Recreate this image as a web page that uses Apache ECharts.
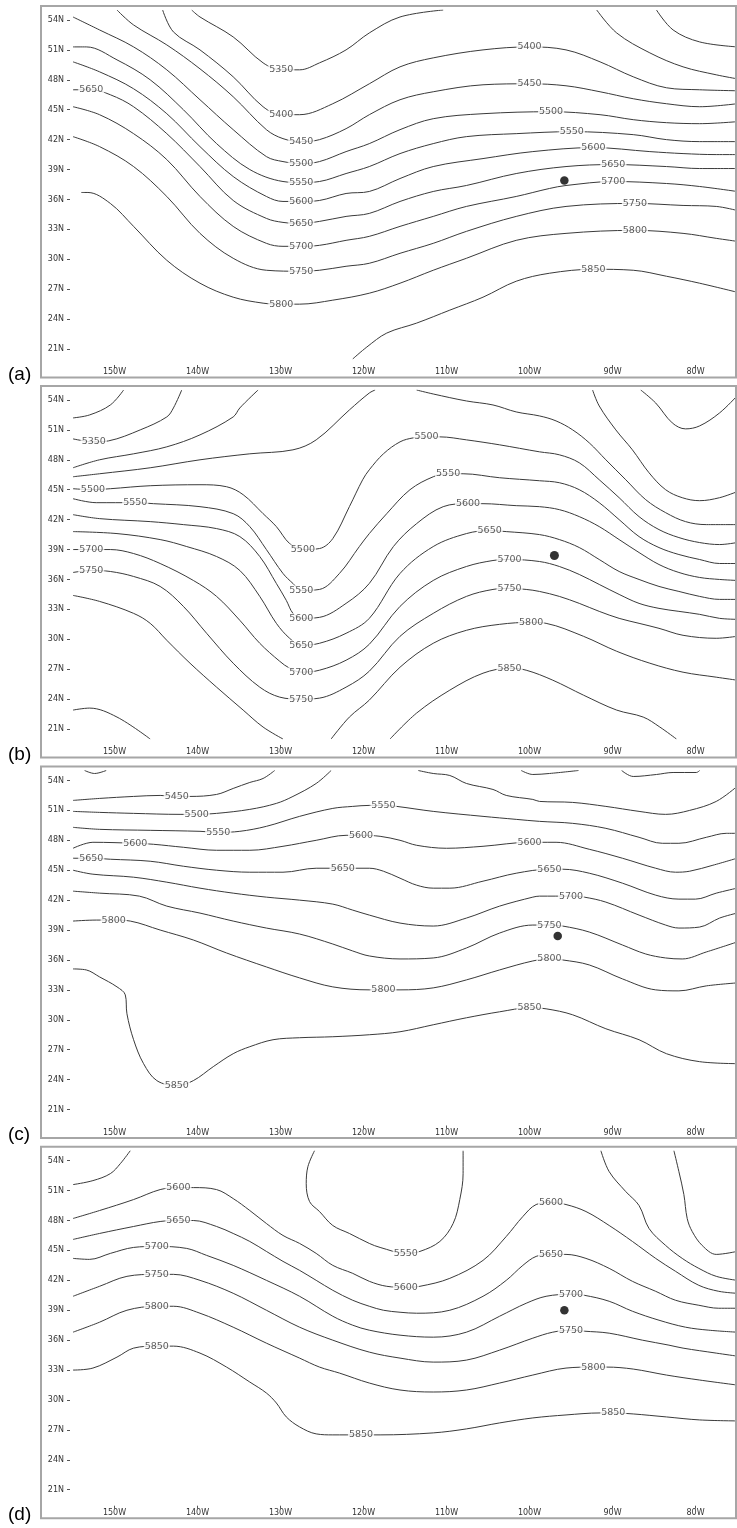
<!DOCTYPE html>
<html>
<head>
<meta charset="utf-8">
<script src="https://cdn.jsdelivr.net/npm/echarts@6/dist/echarts.min.js"></script>
<style>
html,body{margin:0;padding:0;background:#fff;}
#chart{width:737px;height:1528px;}
</style>
</head>
<body>
<div id="chart"></div>
<script>
// ---- axis ticks ----
const lonTicks = [-150,-140,-130,-120,-110,-100,-90,-80];
const latTicks = [21,24,27,30,33,36,39,42,45,48,51,54];
const panelNames = ['(a)','(b)','(c)','(d)'];

// ---- panel (a): contour segments [level, [[lon,lat],...]] ----
const linesA = [
 [5350, [[-140.7,55],[-139.7,54.3],[-135.7,52.3],[-132.1,49.7],[-129.9,49.0],[-127.7,49.0],[-125.3,49.7],[-122.1,51.0],[-119.3,52.7],[-115.6,54.3],[-110.4,55]]],
 [5400, [[-144.2,55],[-142.9,52.8],[-139.7,51.0],[-135.7,48.3],[-132.1,45.3],[-129.9,44.5],[-127.7,44.5],[-123.7,45.6],[-119.3,47.6],[-115.6,49.3],[-111.6,50.2],[-105.6,51.0],[-100.0,51.3],[-95.6,51.0],[-91.5,49.8],[-87.5,48.3],[-83.5,47.2],[-79.5,47.0],[-75,46.9]]],
 [5450, [[-149.7,55],[-147.7,53.5],[-143.7,51.5],[-139.7,49.1],[-135.7,46.3],[-131.7,43.0],[-129.7,42.1],[-127.5,41.8],[-125.3,42.0],[-122.1,43.1],[-119.3,44.5],[-115.6,46.0],[-111.6,46.8],[-105.6,47.5],[-100.0,47.6],[-95.6,47.4],[-91.5,46.8],[-87.5,46.1],[-83.5,45.6],[-79.5,45.3],[-75,45.6]]],
 [5500, [[-155,54.3],[-151.8,53.0],[-147.7,51.3],[-143.7,49.0],[-139.7,46.0],[-135.7,43.0],[-131.7,40.3],[-129.7,39.8],[-127.5,39.6],[-125.3,39.8],[-122.1,40.8],[-119.3,41.6],[-115.6,43.0],[-111.6,44.1],[-105.6,44.6],[-97.4,44.8],[-91.5,44.5],[-87.5,44.0],[-83.5,43.7],[-79.5,43.6],[-75,43.8]]],
 [5550, [[-155,51.3],[-153.4,51.3],[-149.7,50.0],[-145.7,48.0],[-141.7,45.0],[-137.7,41.6],[-133.7,39.0],[-129.7,37.8],[-127.5,37.7],[-125.3,37.8],[-122.1,38.6],[-119.3,39.3],[-115.6,40.6],[-111.6,41.6],[-107.6,42.3],[-101.6,42.6],[-94.9,42.8],[-87.5,42.5],[-83.5,42.0],[-79.5,41.8],[-75,41.8]]],
 [5600, [[-155,49.8],[-151.8,48.8],[-147.7,47.1],[-143.7,44.6],[-139.7,41.3],[-135.7,38.3],[-131.7,36.3],[-129.7,35.8],[-127.5,35.8],[-125.3,35.9],[-122.1,36.6],[-119.3,36.8],[-115.6,38.1],[-111.6,39.3],[-105.6,40.1],[-99.6,40.8],[-92.3,41.2],[-85.5,40.8],[-81.5,40.6],[-77.5,40.5],[-75,40.5]]],
 [5650, [[-155,47.0],[-152.8,47.0],[-150.5,46.5],[-147.7,45.3],[-143.7,42.6],[-139.7,39.3],[-135.7,35.9],[-131.7,34.1],[-129.7,33.7],[-127.5,33.6],[-125.3,33.8],[-122.1,34.3],[-119.3,34.6],[-115.6,35.8],[-111.6,36.8],[-107.6,37.4],[-101.6,38.6],[-95.6,39.3],[-89.9,39.5],[-83.5,39.3],[-79.5,39.1],[-75,39.1]]],
 [5700, [[-155,45.3],[-151.8,44.5],[-147.7,42.6],[-143.7,40.0],[-139.7,36.3],[-135.7,33.3],[-131.7,31.6],[-129.7,31.3],[-127.5,31.3],[-125.3,31.4],[-122.1,31.9],[-119.3,32.3],[-115.6,33.3],[-111.6,34.3],[-107.6,35.3],[-101.6,36.3],[-97.6,37.1],[-95.6,37.4],[-89.9,37.8],[-83.5,37.6],[-79.5,37.3],[-75,36.8]]],
 [5750, [[-155,42.3],[-151.8,41.3],[-147.7,39.3],[-143.7,36.3],[-139.7,32.6],[-135.7,30.1],[-131.7,28.9],[-127.5,28.8],[-125.3,28.9],[-122.1,29.3],[-119.3,29.6],[-115.6,30.6],[-111.6,31.6],[-107.6,32.8],[-101.6,34.3],[-95.6,35.3],[-87.3,35.6],[-81.5,35.4],[-77.5,35.3],[-75,34.9]]],
 [5800, [[-154.0,36.7],[-153.2,36.7],[-150.5,35.6],[-147.7,33.3],[-143.7,29.9],[-139.7,27.6],[-135.7,26.2],[-132.1,25.6],[-129.9,25.5],[-127.7,25.5],[-123.7,25.9],[-119.3,26.6],[-115.6,27.6],[-111.6,28.9],[-107.6,30.1],[-101.6,31.9],[-95.6,32.6],[-87.3,32.9],[-81.5,32.6],[-77.5,32.1],[-75,31.8]]],
 [5850, [[-121.3,20],[-119.6,21.2],[-117.2,22.6],[-113.6,23.6],[-109.6,24.9],[-105.6,26.2],[-101.6,27.8],[-97.6,28.6],[-92.3,29.0],[-87.5,28.9],[-83.5,28.3],[-79.5,27.6],[-75,26.7]]],
 [5350, [[-91.9,55],[-89.5,52.7],[-85.5,50.7],[-81.5,49.3],[-77.5,48.5],[-75,48.1]]],
 [5300, [[-84.7,55],[-82.7,53.0],[-79.5,51.8],[-75,51.3]]]
];
const labelsA = [
 [-129.9,49.0,'5350'],[-129.9,44.5,'5400'],[-127.5,41.8,'5450'],[-127.5,39.6,'5500'],[-127.5,37.7,'5550'],
 [-127.5,35.8,'5600'],[-127.5,33.6,'5650'],[-127.5,31.3,'5700'],[-127.5,28.8,'5750'],[-129.9,25.5,'5800'],
 [-152.8,47.0,'5650'],[-100.0,51.3,'5400'],[-100.0,47.6,'5450'],[-97.4,44.8,'5500'],[-94.9,42.8,'5550'],
 [-92.3,41.2,'5600'],[-89.9,39.5,'5650'],[-89.9,37.8,'5700'],[-87.3,35.6,'5750'],[-87.3,32.9,'5800'],[-92.3,29.0,'5850']
];
const dotA = [-95.8,37.9];

// ---- panel (b) ----
const linesB = [
 [5300, [[-155,52.2],[-153.0,52.5],[-150.5,53.5],[-148.9,55]]],
 [5350, [[-155,50.1],[-152.5,49.8],[-150.7,49.9],[-146.9,51.0],[-143.7,52.3],[-142.9,53.2],[-141.9,55]]],
 [5400, [[-155,47.2],[-151.8,48.0],[-147.7,48.6],[-143.7,49.3],[-139.7,50.5],[-135.7,52.3],[-134.9,53.2],[-132.7,55]]],
 [5450, [[-155,46.3],[-151.8,46.6],[-145.7,47.2],[-139.7,48.0],[-133.7,48.6],[-128.5,49.0],[-125.7,50.0],[-121.7,53.0],[-119.3,54.7],[-118.6,55]]],
 [5500, [[-155,45.1],[-152.6,45.0],[-150.5,45.1],[-145.7,45.4],[-139.7,45.5],[-136.5,45.3],[-134.5,44.5],[-132.1,42.6],[-130.5,41.3],[-128.9,39.6],[-127.3,39.0],[-125.3,39.1],[-123.7,40.1],[-121.7,43.3],[-120.1,46.0],[-119.3,47.0],[-117.6,48.6],[-115.6,49.8],[-114.0,50.2],[-112.4,50.3],[-110.8,50.3],[-107.6,50.0],[-103.6,49.5],[-98.8,48.8],[-96.4,48.5],[-94.0,47.7],[-91.6,46.0],[-89.2,44.2],[-86.8,42.3],[-84.4,41.0],[-82.0,40.2],[-79.5,39.7],[-77.1,39.5],[-75,39.7]]],
 [5550, [[-155,44.1],[-152.2,43.7],[-147.5,43.7],[-145.3,43.6],[-139.7,43.3],[-135.7,42.6],[-133.7,41.3],[-131.7,39.0],[-129.7,36.6],[-128.5,35.6],[-127.5,34.9],[-125.3,35.0],[-122.9,36.6],[-120.5,39.3],[-119.3,40.6],[-117.2,42.6],[-114.4,45.0],[-111.6,46.3],[-109.8,46.6],[-108.0,46.6],[-103.6,46.2],[-98.8,45.9],[-96.4,45.7],[-94.0,45.0],[-91.6,43.7],[-89.2,42.0],[-86.8,40.3],[-84.4,39.2],[-82.0,38.5],[-79.5,38.0],[-77.1,37.6],[-75,37.6]]],
 [5600, [[-155,42.5],[-151.8,42.1],[-145.7,41.8],[-141.7,41.5],[-137.7,41.1],[-134.9,40.3],[-132.5,38.3],[-130.5,35.6],[-129.3,33.9],[-128.5,32.6],[-127.5,32.1],[-125.3,32.2],[-122.1,33.6],[-119.3,35.6],[-116.4,39.3],[-113.6,41.6],[-110.4,43.3],[-107.4,43.6],[-105.6,43.6],[-101.6,43.4],[-98.8,43.3],[-96.4,43.0],[-94.0,42.3],[-91.6,41.3],[-89.2,40.0],[-86.8,38.7],[-84.4,37.5],[-82.0,36.7],[-79.5,36.2],[-77.1,36.0],[-75,35.9]]],
 [5650, [[-155,40.8],[-149.7,40.6],[-144.5,40.0],[-141.3,39.3],[-137.7,38.3],[-134.9,36.9],[-132.5,34.3],[-130.5,31.6],[-128.9,30.1],[-127.5,29.4],[-125.3,29.6],[-122.1,30.6],[-119.3,32.1],[-115.6,36.6],[-111.6,39.3],[-107.6,40.6],[-104.8,40.9],[-102.8,40.8],[-98.8,40.5],[-96.4,40.0],[-94.0,39.2],[-91.6,38.0],[-89.2,36.8],[-86.8,36.0],[-84.4,35.3],[-82.0,34.8],[-79.5,34.3],[-77.1,34.0],[-75,34.0]]],
 [5700, [[-155,39.0],[-152.8,39.0],[-150.5,39.0],[-147.7,38.6],[-144.5,37.6],[-140.5,35.9],[-137.7,34.3],[-134.9,31.9],[-132.5,29.6],[-130.1,27.8],[-128.9,27.1],[-127.5,26.7],[-125.3,26.9],[-122.1,27.9],[-119.3,29.5],[-115.6,33.3],[-111.6,35.9],[-107.6,37.3],[-104.4,37.9],[-102.4,38.0],[-98.8,37.8],[-96.4,37.3],[-94.0,36.5],[-91.6,35.5],[-89.2,34.5],[-86.8,33.6],[-84.4,33.1],[-82.0,32.8],[-79.5,32.5],[-77.1,32.1],[-75,32.0]]],
 [5750, [[-155,36.7],[-152.8,36.9],[-150.5,36.8],[-147.7,36.3],[-144.5,35.3],[-141.7,33.3],[-138.9,30.6],[-135.7,27.6],[-132.5,25.2],[-130.1,24.2],[-127.5,24.0],[-125.3,24.1],[-122.1,25.2],[-119.3,26.8],[-115.6,30.3],[-111.6,32.6],[-107.6,34.3],[-104.4,35.0],[-102.4,35.1],[-100.4,35.0],[-98.8,34.8],[-96.4,34.3],[-94.0,33.6],[-91.6,32.8],[-89.2,32.1],[-86.8,31.6],[-84.4,31.1],[-81.5,30.4],[-77.5,30.1],[-75,30.3]]],
 [5800, [[-155,34.4],[-151.8,33.8],[-147.7,32.6],[-145.7,31.6],[-143.7,29.9],[-140.9,27.6],[-137.7,25.2],[-134.5,22.9],[-132.1,21.2],[-129.7,20]]],
 [5800, [[-123.9,20],[-121.7,22.2],[-119.3,23.9],[-115.6,27.2],[-111.6,29.6],[-107.6,30.9],[-103.6,31.5],[-99.8,31.7],[-98.0,31.6],[-93.5,30.3],[-89.5,28.8],[-85.5,27.6],[-81.5,26.7],[-77.5,26.2],[-75,25.9]]],
 [5850, [[-155,22.9],[-153.0,23.1],[-149.7,22.2],[-145.7,20]]],
 [5850, [[-116.8,20],[-113.6,22.6],[-109.6,24.9],[-105.6,26.6],[-102.4,27.1],[-100.4,26.9],[-97.2,25.9],[-93.5,24.4],[-89.5,22.9],[-86.3,22.2],[-84.3,21.2],[-82.3,20]]],
 [5450, [[-113.6,55],[-111.6,54.6],[-107.6,53.9],[-104.4,53.5],[-101.6,52.8],[-98.8,52.4],[-96.8,51.9],[-94.8,51.0],[-92.8,49.7],[-90.8,48.0],[-88.4,46.0],[-86.0,44.0],[-83.6,42.7],[-81.2,41.8],[-78.7,41.5],[-75,41.5]]],
 [5400, [[-92.4,55],[-91.6,53.4],[-89.6,51.0],[-87.6,49.0],[-85.6,46.7],[-83.6,45.0],[-81.6,44.2],[-79.5,43.9],[-77.1,44.2],[-75,44.8]]],
 [5350, [[-86.6,55],[-84.8,53.7],[-82.8,51.7],[-81.2,51.1],[-79.5,51.4],[-77.1,52.7],[-75,54.4]]]
];
const labelsB = [
 [-152.5,49.8,'5350'],[-152.6,45.0,'5500'],[-147.5,43.7,'5550'],[-152.8,39.0,'5700'],[-152.8,36.9,'5750'],
 [-127.3,39.0,'5500'],[-127.5,34.9,'5550'],[-127.5,32.1,'5600'],[-127.5,29.4,'5650'],[-127.5,26.7,'5700'],[-127.5,24.0,'5750'],
 [-112.4,50.3,'5500'],[-109.8,46.6,'5550'],[-107.4,43.6,'5600'],[-104.8,40.9,'5650'],[-102.4,38.0,'5700'],
 [-102.4,35.1,'5750'],[-99.8,31.7,'5800'],[-102.4,27.1,'5850']
];
const dotB = [-97.0,38.4];

// ---- panel (c) ----
const linesC = [
 [5450, [[-153.6,55],[-152.4,54.7],[-151.0,55]]],
 [5450, [[-155,52.0],[-151.8,52.2],[-147.7,52.4],[-144.5,52.5],[-142.5,52.4],[-140.9,52.4],[-137.7,52.6],[-135.7,53.2],[-133.7,53.8],[-132.1,54.2],[-130.7,55]]],
 [5500, [[-155,50.9],[-151.8,50.8],[-147.7,50.7],[-142.1,50.6],[-140.1,50.6],[-137.7,50.7],[-133.7,51.1],[-130.5,51.7],[-128.5,52.4],[-125.7,53.7],[-123.9,55]]],
 [5500, [[-113.4,55],[-111.6,54.7],[-109.6,54.5],[-107.6,53.7],[-104.4,53.1],[-102.8,52.5],[-99.6,52.1],[-98.8,51.9],[-94.8,51.8],[-90.8,51.4],[-86.8,50.9],[-83.6,50.6],[-80.7,51.0],[-77.5,51.9],[-75,53.4]]],
 [5450, [[-101.0,55],[-99.6,54.6],[-97.6,54.7],[-94.1,55]]],
 [5450, [[-88.9,55],[-87.5,54.4],[-84.7,54.6],[-82.7,54.8],[-79.9,54.8],[-79.5,55]]],
 [5550, [[-155,49.3],[-151.8,49.1],[-145.7,49.0],[-139.7,48.9],[-137.5,48.8],[-134.9,48.9],[-131.7,49.4],[-127.7,50.4],[-123.7,51.2],[-121.3,51.4],[-119.3,51.5],[-117.6,51.5],[-116.0,51.4],[-111.6,50.9],[-105.6,50.4],[-101.6,50.1],[-98.8,49.9],[-94.8,49.7],[-90.8,49.2],[-86.8,48.3],[-84.0,47.7],[-82.0,47.7],[-78.7,48.3],[-76.3,48.7],[-75,48.7]]],
 [5600, [[-155,47.2],[-152.6,47.8],[-147.5,47.7],[-145.3,47.6],[-141.7,47.3],[-137.7,47.0],[-133.7,47.0],[-129.7,47.4],[-125.7,48.0],[-122.1,48.5],[-120.3,48.5],[-118.0,48.4],[-115.6,48.0],[-113.6,47.5],[-110.0,47.2],[-105.6,47.4],[-100.0,47.8],[-98.8,47.8],[-96.8,47.8],[-92.8,47.1],[-88.8,46.2],[-84.8,45.2],[-82.4,44.8],[-80.7,44.9],[-77.9,45.5],[-75,46.2]]],
 [5650, [[-155,46.2],[-152.8,46.2],[-150.5,46.1],[-145.7,45.9],[-141.7,45.4],[-137.7,45.0],[-133.7,44.8],[-129.7,44.8],[-125.7,45.2],[-122.5,45.2],[-119.3,45.2],[-117.6,44.9],[-115.6,44.2],[-113.6,43.5],[-111.6,43.2],[-109.6,43.2],[-105.6,43.9],[-101.6,44.7],[-97.6,45.1],[-96.0,45.1],[-92.8,44.7],[-88.8,43.7],[-84.8,42.5],[-82.0,42.1],[-80.0,42.1],[-77.5,42.7],[-75,43.2]]],
 [5700, [[-155,45.0],[-152.6,44.6],[-147.7,44.3],[-143.7,43.8],[-139.7,43.2],[-135.7,42.7],[-131.7,42.3],[-127.7,42.0],[-123.7,41.6],[-121.3,41.0],[-119.3,40.5],[-115.6,39.7],[-111.6,39.4],[-107.6,40.2],[-103.6,41.4],[-99.6,42.3],[-98.8,42.4],[-95.0,42.4],[-93.4,42.3],[-90.8,41.8],[-86.8,40.5],[-83.6,39.5],[-82.0,39.2],[-79.5,39.3],[-77.1,40.2],[-75,40.7]]],
 [5750, [[-155,42.9],[-151.8,42.7],[-147.0,42.4],[-143.7,41.4],[-139.7,40.7],[-135.7,39.9],[-131.7,39.2],[-127.7,38.6],[-123.7,37.6],[-121.3,36.9],[-119.3,36.4],[-115.6,36.1],[-111.6,36.2],[-107.6,37.2],[-103.6,38.7],[-99.6,39.5],[-97.6,39.5],[-96.0,39.4],[-92.8,38.8],[-88.8,37.5],[-86.0,36.6],[-83.6,36.2],[-81.6,36.1],[-78.7,36.8],[-75,37.8]]],
 [5800, [[-155,39.9],[-152.2,40.0],[-150.1,40.0],[-148.1,39.9],[-144.5,39.0],[-140.5,38.0],[-136.5,36.7],[-131.7,35.3],[-127.7,34.2],[-123.7,33.3],[-119.3,33.0],[-117.6,33.0],[-115.6,33.0],[-111.6,33.2],[-107.6,34.0],[-103.6,35.0],[-99.6,35.9],[-97.6,36.1],[-96.0,36.0],[-92.8,35.5],[-88.8,34.1],[-84.8,33.0],[-82.0,32.9],[-78.7,33.4],[-75,33.7]]],
 [5850, [[-155,35.1],[-153.4,35.0],[-151.8,34.3],[-149.7,33.3],[-148.7,32.5],[-148.5,30.6],[-147.7,28.0],[-146.5,25.6],[-144.9,23.9],[-142.5,23.4],[-140.5,23.9],[-138.1,25.3],[-135.7,26.6],[-133.7,27.3],[-130.9,28.0],[-127.7,28.2],[-123.7,28.3],[-119.3,28.5],[-115.6,28.8],[-111.6,29.5],[-107.6,30.2],[-103.6,30.8],[-100.0,31.2],[-98.0,31.1],[-94.8,30.5],[-90.8,29.1],[-86.8,28.0],[-83.5,26.6],[-79.5,25.8],[-75,25.6]]]
];
const labelsC = [
 [-142.5,52.4,'5450'],[-140.1,50.6,'5500'],[-137.5,48.8,'5550'],[-147.5,47.7,'5600'],[-152.8,46.2,'5650'],
 [-150.1,40.0,'5800'],[-142.5,23.4,'5850'],[-122.5,45.2,'5650'],[-120.3,48.5,'5600'],[-117.6,51.5,'5550'],
 [-117.6,33.0,'5800'],[-100.0,47.8,'5600'],[-97.6,45.1,'5650'],[-95.0,42.4,'5700'],[-97.6,39.5,'5750'],
 [-97.6,36.1,'5800'],[-100.0,31.2,'5850']
];
const dotC = [-96.6,38.4];

// ---- panel (d) ----
const linesD = [
 [5550, [[-155,51.6],[-152.6,52.0],[-150.5,52.7],[-149.3,53.7],[-148.1,55]]],
 [5550, [[-125.9,55],[-126.7,53.4],[-126.9,51.7],[-126.5,49.9],[-125.3,48.9],[-123.7,47.5],[-121.7,46.7],[-119.3,45.7],[-118.0,45.3],[-114.9,44.7],[-113.2,44.9],[-110.8,45.9],[-109.2,47.7],[-108.4,50.1],[-108.0,52.7],[-108.0,55]]],
 [5600, [[-155,48.2],[-151.8,49.0],[-147.7,50.1],[-144.5,51.1],[-142.3,51.3],[-140.5,51.3],[-137.7,51.1],[-135.7,50.2],[-133.7,49.0],[-131.7,47.7],[-129.7,46.5],[-127.7,45.7],[-125.7,44.7],[-123.7,43.5],[-121.3,42.7],[-119.3,41.9],[-117.2,41.4],[-114.9,41.3],[-113.2,41.4],[-109.6,42.2],[-105.6,44.0],[-102.8,46.4],[-100.8,48.4],[-99.2,49.6],[-97.4,49.8],[-95.6,49.6],[-93.2,48.9],[-90.4,47.5],[-87.6,45.9],[-84.8,44.2],[-82.4,42.9],[-79.6,41.5],[-77.2,40.9],[-75,40.7]]],
 [5650, [[-155,46.1],[-151.8,46.7],[-147.7,47.4],[-144.5,47.9],[-142.3,48.0],[-140.5,48.0],[-137.7,47.4],[-135.7,46.7],[-133.7,45.9],[-131.7,44.9],[-129.7,43.9],[-127.7,43.0],[-125.7,42.0],[-123.7,41.0],[-121.3,40.0],[-119.3,39.4],[-117.6,39.0],[-115.6,38.8],[-113.6,38.7],[-109.6,39.0],[-105.6,40.4],[-102.8,42.0],[-100.8,43.5],[-99.2,44.4],[-97.4,44.6],[-95.6,44.6],[-93.2,44.2],[-90.4,43.2],[-87.6,41.9],[-84.8,40.9],[-82.4,40.0],[-79.6,39.5],[-77.2,39.2],[-75,39.2]]],
 [5700, [[-155,44.2],[-153.0,44.1],[-150.5,44.7],[-147.7,45.3],[-144.9,45.4],[-141.3,45.2],[-138.9,44.5],[-135.7,43.5],[-131.7,42.0],[-127.7,40.4],[-123.7,38.4],[-121.3,37.5],[-119.3,37.0],[-115.6,36.5],[-111.6,36.3],[-107.6,36.8],[-103.6,38.4],[-100.4,39.7],[-98.0,40.4],[-95.0,40.6],[-93.4,40.5],[-90.4,39.9],[-87.6,38.9],[-84.4,38.0],[-81.2,37.3],[-78.4,37.0],[-75,36.8]]],
 [5750, [[-155,40.4],[-151.8,41.4],[-148.5,42.4],[-144.9,42.6],[-142.9,42.6],[-139.7,42.0],[-135.7,40.7],[-131.7,39.0],[-127.7,37.3],[-123.7,36.0],[-119.3,34.8],[-115.6,34.2],[-111.6,33.8],[-107.6,34.0],[-103.6,35.0],[-99.6,36.2],[-97.2,36.8],[-95.0,37.0],[-93.4,36.9],[-90.4,36.7],[-86.4,36.0],[-83.2,35.5],[-81.5,35.2],[-77.5,34.7],[-75,34.4]]],
 [5800, [[-155,36.8],[-151.8,37.8],[-148.5,39.0],[-144.9,39.4],[-142.9,39.4],[-139.7,38.7],[-135.7,37.3],[-131.7,35.7],[-127.7,34.2],[-125.3,33.3],[-122.9,32.7],[-119.3,31.7],[-115.6,31.0],[-111.6,30.8],[-107.6,31.0],[-103.6,31.7],[-99.6,32.5],[-95.6,33.2],[-92.3,33.3],[-90.7,33.3],[-87.5,33.1],[-83.5,32.5],[-79.5,32.0],[-75,31.5]]],
 [5850, [[-155,33.0],[-152.6,33.2],[-149.7,34.3],[-147.7,35.2],[-144.9,35.4],[-142.9,35.4],[-139.7,34.7],[-136.5,33.3],[-133.7,31.8],[-131.7,30.7],[-130.5,29.7],[-129.3,28.3],[-127.7,27.3],[-125.7,26.6],[-123.7,26.5],[-122.1,26.5],[-120.3,26.5],[-118.0,26.5],[-111.6,26.7],[-107.6,27.1],[-103.6,27.7],[-99.6,28.2],[-95.6,28.5],[-91.5,28.7],[-89.9,28.7],[-87.5,28.6],[-83.5,28.3],[-79.5,28.0],[-75,27.9]]],
 [5550, [[-91.4,55],[-90.4,52.9],[-88.4,50.9],[-86.8,49.5],[-85.6,47.2],[-83.6,45.5],[-81.6,44.2],[-79.6,43.2],[-77.5,42.4],[-75,42.0]]],
 [5500, [[-82.6,55],[-82.0,52.9],[-81.4,50.6],[-81.0,48.2],[-80.4,46.9],[-79.2,45.5],[-77.5,44.6],[-75,44.9]]]
];
const labelsD = [
 [-142.3,51.3,'5600'],[-142.3,48.0,'5650'],[-144.9,45.4,'5700'],[-144.9,42.6,'5750'],[-144.9,39.4,'5800'],
 [-144.9,35.4,'5850'],[-120.3,26.5,'5850'],[-114.9,44.7,'5550'],[-114.9,41.3,'5600'],[-97.4,49.8,'5600'],
 [-97.4,44.6,'5650'],[-95.0,40.6,'5700'],[-95.0,37.0,'5750'],[-92.3,33.3,'5800'],[-89.9,28.7,'5850']
];
const dotD = [-95.8,39.0];

// ---- build chart ----
const panelLines = [linesA, linesB, linesC, linesD];
const panelLabels = [labelsA, labelsB, labelsC, labelsD];
const panelDots = [dotA, dotB, dotC, dotD];
const offsets = [0, 380, 760.5, 1140.7];

const grids = [], xAxes = [], yAxes = [], series = [], graphics = [];
const axisFont = 'DejaVu Sans';

offsets.forEach((off, i) => {
  grids.push({left: 73, top: 10 + off, width: 665, height: 349});
  xAxes.push({
    type: 'value', gridIndex: i, min: -155, max: -75, position: 'bottom', offset: 6,
    axisLine: {show: false}, splitLine: {show: false},
    axisTick: {show: true, length: 3, customValues: lonTicks, lineStyle: {color: '#555', width: 1}},
    axisLabel: {show: true, customValues: lonTicks, margin: 3, fontSize: 8, color: '#333', fontFamily: axisFont,
      formatter: v => Math.abs(v) + 'W'}
  });
  yAxes.push({
    type: 'value', gridIndex: i, min: 20, max: 55, position: 'left', offset: 3,
    axisLine: {show: false}, splitLine: {show: false},
    axisTick: {show: true, length: 3, customValues: latTicks, lineStyle: {color: '#555', width: 1}},
    axisLabel: {show: true, customValues: latTicks, margin: 6, fontSize: 8, color: '#333', fontFamily: axisFont,
      formatter: v => v + 'N'}
  });
  panelLines[i].forEach(seg => {
    series.push({
      type: 'line', xAxisIndex: i, yAxisIndex: i, data: seg[1], name: String(seg[0]),
      showSymbol: false, symbol: 'none', smooth: 0.35, silent: true, z: 2,
      lineStyle: {color: '#3a3a3a', width: 1}
    });
  });
  series.push({
    type: 'scatter', xAxisIndex: i, yAxisIndex: i, data: panelLabels[i], symbolSize: 0, silent: true, z: 5,
    label: {show: true, position: 'inside', formatter: p => p.data[2], fontSize: 9.5, fontFamily: axisFont,
      color: '#333', backgroundColor: '#fff', padding: [0, 1]}
  });
  series.push({
    type: 'scatter', xAxisIndex: i, yAxisIndex: i, data: [panelDots[i]], symbolSize: i === 1 ? 9 : 8.5,
    silent: true, z: 6, itemStyle: {color: '#000'}
  });
  graphics.push({
    type: 'rect', silent: true, z: 10,
    shape: {x: 41, y: 6 + off, width: 695, height: 371.5},
    style: {fill: 'none', stroke: '#a6a6a6', lineWidth: 2}
  });
  graphics.push({
    type: 'text', silent: true, z: 10, x: 8, y: 374.5 + off,
    style: {text: panelNames[i], font: '19px "Liberation Sans", Arial, sans-serif', fill: '#000',
      textVerticalAlign: 'middle', verticalAlign: 'middle'}
  });
});

const chart = echarts.init(document.getElementById('chart'), null, {renderer: 'canvas'});
chart.setOption({
  animation: false,
  backgroundColor: '#fff',
  grid: grids, xAxis: xAxes, yAxis: yAxes, series: series, graphic: graphics
});
</script>
</body>
</html>
